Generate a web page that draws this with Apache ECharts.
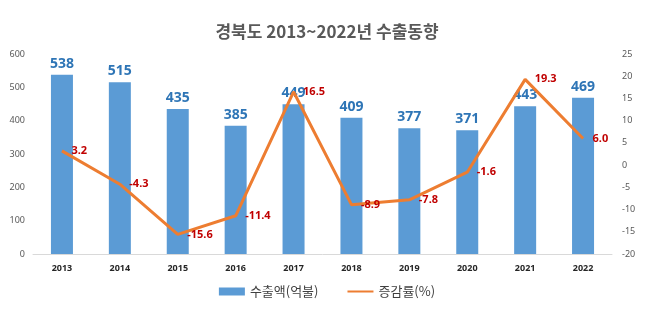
<!DOCTYPE html>
<html><head><meta charset="utf-8">
<script src="https://cdn.jsdelivr.net/npm/echarts@6/dist/echarts.min.js"></script>
<style>html,body{margin:0;padding:0;background:#fff}#c{width:654px;height:321px}</style>
</head><body><div id="c"></div>
<script>
const categories = ['2013','2014','2015','2016','2017','2018','2019','2020','2021','2022'];
const exportValues = [538,515,435,385,449,409,377,371,443,469];
const growthRates = [3.2,-4.3,-15.6,-11.4,16.5,-8.9,-7.8,-1.6,19.3,6.0];
const titleText = '경북도 2013~2022년 수출동향';
const barName = '수출액(억불)';
const lineName = '증감률(%)';

const chart = echarts.init(document.getElementById('c'));
chart.setOption({
  backgroundColor:'#fff',
  animation:false,
  title:{text:titleText,left:'center',top:18,textStyle:{fontFamily:'Noto Sans CJK KR',fontSize:17,fontWeight:'bold',color:'#595959'}},
  grid:{left:33,right:42,top:54,bottom:67},
  legend:{bottom:18,left:'center',itemGap:28,itemWidth:26,itemHeight:8,
    textStyle:{fontFamily:'Noto Sans CJK KR',fontSize:13,color:'#404040'},
    data:[{name:barName,icon:'rect'},{name:lineName,itemStyle:{opacity:0}}]},
  xAxis:{type:'category',data:categories,
    axisLine:{lineStyle:{color:'#d9d9d9'}},axisTick:{show:false},
    axisLabel:{fontFamily:'Noto Sans',fontSize:9,fontWeight:'bold',color:'#262626',margin:10}},
  yAxis:[
    {type:'value',min:0,max:600,interval:100,splitLine:{show:false},
      axisLabel:{fontFamily:'Noto Sans',fontSize:9,color:'#595959',margin:8,align:'right'}},
    {type:'value',min:-20,max:25,interval:5,splitLine:{show:false},
      axisLabel:{fontFamily:'Noto Sans',fontSize:9,color:'#595959',margin:10}}
  ],
  series:[
    {name:barName,type:'bar',data:exportValues,barWidth:22,itemStyle:{color:'#5B9BD5'},
      label:{show:true,position:'top',distance:4,fontFamily:'Noto Sans',fontSize:14,fontWeight:'bold',color:'#2E75B6'}},
    {name:lineName,type:'line',yAxisIndex:1,data:growthRates,symbol:'circle',symbolSize:1,showSymbol:true,
      lineStyle:{color:'#ED7D31',width:3},itemStyle:{color:'rgba(237,125,49,0)'},
      label:{show:true,position:'right',distance:9,fontFamily:'Noto Sans',fontSize:11,fontWeight:'bold',color:'#C00000',
        formatter:p=>p.value.toFixed(1)}}
  ]
});
</script></body></html>
